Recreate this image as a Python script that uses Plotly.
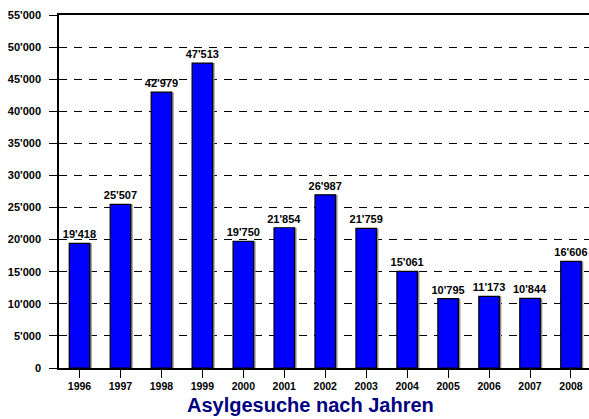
import plotly.graph_objects as go

years = ["1996", "1997", "1998", "1999", "2000", "2001", "2002",
         "2003", "2004", "2005", "2006", "2007", "2008"]
gesuche = [19418, 25507, 42979, 47513, 19750, 21854, 26987,
           21759, 15061, 10795, 11173, 10844, 16606]
y_ticks = list(range(0, 55001, 5000))

def swiss(n):
    return f"{n:,}".replace(",", "'")

fig = go.Figure()

# grey shadow behind each bar
fig.add_trace(go.Bar(
    x=years, y=gesuche, width=0.5, offset=-0.2,
    marker=dict(color="#8c8c8c", line=dict(width=0)),
    hoverinfo="skip", showlegend=False,
))

fig.add_trace(go.Bar(
    x=years, y=gesuche, width=0.5, offset=-0.25,
    marker=dict(color="#0000ff", line=dict(color="black", width=1.2)),
    text=[swiss(v) for v in gesuche], textposition="outside",
    constraintext="none",
    textfont=dict(family="Liberation Sans", size=11, color="black", weight="bold"),
    cliponaxis=False, showlegend=False,
))

fig.update_layout(
    width=589, height=419,
    margin=dict(l=59, r=0, t=15, b=51, autoexpand=False),
    barmode="overlay",
    plot_bgcolor="white", paper_bgcolor="white",
    font=dict(family="Liberation Sans", color="black"),
    annotations=[dict(
        text="<b>Asylgesuche nach Jahren</b>", showarrow=False,
        xref="paper", yref="paper", x=0.474, y=-0.105,
        xanchor="center", yanchor="middle",
        font=dict(family="Liberation Sans", size=20, color="#000080"),
    )],
)

fig.update_xaxes(
    type="category", range=[-0.5, 12.44], automargin=False,
    showline=True, linecolor="black", linewidth=1.5, mirror=True,
    ticks="outside", ticklen=8, tickcolor="black",
    tickfont=dict(size=10.5, color="black", weight="bold"),
    showgrid=False,
)

fig.update_yaxes(
    range=[0, 55000], automargin=False,
    tickvals=y_ticks, ticktext=[swiss(v) for v in y_ticks],
    showline=True, linecolor="black", linewidth=1.5,
    ticks="outside", ticklen=8, tickcolor="black",
    ticklabelstandoff=6,
    tickfont=dict(size=11, color="black", weight="bold"),
    showgrid=True, gridcolor="black", gridwidth=1, griddash="8px,7px",
    zeroline=False,
)

# page body has a default margin; drop it so the figure sits at 0,0
fig.write_html("out.html", config={"displayModeBar": False},
               post_script="document.body.style.margin='0';")
